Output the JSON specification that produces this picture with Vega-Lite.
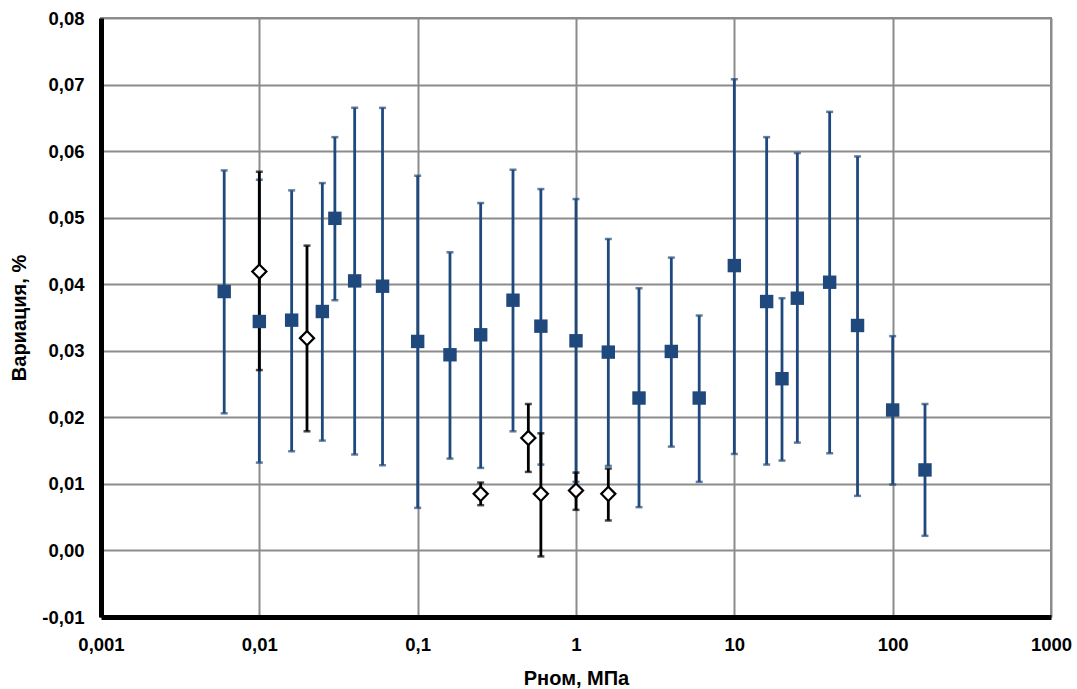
{
  "$schema": "https://vega.github.io/schema/vega-lite/v6.json",
  "width": 950,
  "height": 599,
  "autosize": {"type": "none"},
  "padding": {"left": 101, "top": 18, "right": 26, "bottom": 72},
  "background": "white",
  "config": {
    "font": "Liberation Sans",
    "view": {"stroke": "#8c8c8c", "strokeWidth": 2},
    "axis": {
      "gridColor": "#8c8c8c",
      "gridWidth": 2,
      "gridOpacity": 1,
      "domainColor": "black",
      "domainWidth": 5,
      "ticks": false,
      "labelFont": "Liberation Sans",
      "labelFontWeight": "bold",
      "labelFontSize": 18.5,
      "labelColor": "black",
      "titleFont": "Liberation Sans",
      "titleFontWeight": "bold",
      "titleFontSize": 20,
      "titleColor": "black"
    }
  },
  "data": {
    "values": [
      {"s": "blue", "x": 0.006, "y": 0.0389, "lo": 0.0206, "hi": 0.0571},
      {"s": "blue", "x": 0.01, "y": 0.0344, "lo": 0.0132, "hi": 0.0557},
      {"s": "blue", "x": 0.016, "y": 0.0346, "lo": 0.0149, "hi": 0.0541},
      {"s": "blue", "x": 0.025, "y": 0.0359, "lo": 0.0165, "hi": 0.0552},
      {"s": "blue", "x": 0.03, "y": 0.0499, "lo": 0.0376, "hi": 0.0621},
      {"s": "blue", "x": 0.04, "y": 0.0405, "lo": 0.0144, "hi": 0.0665},
      {"s": "blue", "x": 0.06, "y": 0.0397, "lo": 0.0128, "hi": 0.0665},
      {"s": "blue", "x": 0.1, "y": 0.0314, "lo": 0.0064, "hi": 0.0563},
      {"s": "blue", "x": 0.16, "y": 0.0294, "lo": 0.0138, "hi": 0.0448},
      {"s": "blue", "x": 0.25, "y": 0.0324, "lo": 0.0124, "hi": 0.0522},
      {"s": "blue", "x": 0.4, "y": 0.0376, "lo": 0.0179, "hi": 0.0572},
      {"s": "blue", "x": 0.6, "y": 0.0337, "lo": 0.0129, "hi": 0.0543},
      {"s": "blue", "x": 1, "y": 0.0315, "lo": 0.0103, "hi": 0.0528},
      {"s": "blue", "x": 1.6, "y": 0.0298, "lo": 0.0127, "hi": 0.0468},
      {"s": "blue", "x": 2.5, "y": 0.0229, "lo": 0.0065, "hi": 0.0394},
      {"s": "blue", "x": 4, "y": 0.0299, "lo": 0.0156, "hi": 0.044},
      {"s": "blue", "x": 6, "y": 0.0229, "lo": 0.0103, "hi": 0.0353},
      {"s": "blue", "x": 10, "y": 0.0428, "lo": 0.0145, "hi": 0.0708},
      {"s": "blue", "x": 16, "y": 0.0374, "lo": 0.0129, "hi": 0.0621},
      {"s": "blue", "x": 20, "y": 0.0258, "lo": 0.0135, "hi": 0.0379},
      {"s": "blue", "x": 25, "y": 0.0379, "lo": 0.0162, "hi": 0.0597},
      {"s": "blue", "x": 40, "y": 0.0403, "lo": 0.0146, "hi": 0.0659},
      {"s": "blue", "x": 60, "y": 0.0338, "lo": 0.0082, "hi": 0.0592},
      {"s": "blue", "x": 100, "y": 0.0211, "lo": 0.0099, "hi": 0.0322},
      {"s": "blue", "x": 160, "y": 0.0121, "lo": 0.0022, "hi": 0.022},
      {"s": "black", "x": 0.01, "y": 0.0419, "lo": 0.0271, "hi": 0.0569},
      {"s": "black", "x": 0.02, "y": 0.0319, "lo": 0.0179, "hi": 0.0458},
      {"s": "black", "x": 0.25, "y": 0.0085, "lo": 0.0068, "hi": 0.0102},
      {"s": "black", "x": 0.5, "y": 0.0169, "lo": 0.0118, "hi": 0.022},
      {"s": "black", "x": 0.6, "y": 0.0085, "lo": -0.0009, "hi": 0.0176},
      {"s": "black", "x": 1, "y": 0.009, "lo": 0.0061, "hi": 0.0117},
      {"s": "black", "x": 1.6, "y": 0.0085, "lo": 0.0045, "hi": 0.0123}
    ]
  },
  "encoding": {
    "x": {
      "field": "x",
      "type": "quantitative",
      "scale": {"type": "log", "domain": [0.001, 1000], "nice": false},
      "axis": {
        "title": "Рном, МПа",
        "values": [0.001, 0.01, 0.1, 1, 10, 100, 1000],
        "labelExpr": "replace(toString(datum.value), '.', ',')",
        "labelPadding": 18,
        "titlePadding": 15,
        "labelFlush": false,
        "labelOverlap": false
      }
    }
  },
  "layer": [
    {
      "transform": [{"filter": "datum.s === 'blue'"}],
      "mark": {
        "type": "errorbar",
        "color": "#1f497d",
        "rule": {"strokeWidth": 2.8, "color": "#1f497d"},
        "ticks": {"size": 7, "thickness": 2.5, "color": "#1f497d"}
      },
      "encoding": {
        "y": {
          "field": "lo",
          "type": "quantitative",
          "title": "Вариация, %",
          "scale": {"domain": [-0.01, 0.08], "nice": false, "zero": false},
          "axis": {
            "title": "Вариация, %",
            "values": [-0.01, 0, 0.01, 0.02, 0.03, 0.04, 0.05, 0.06, 0.07, 0.08],
            "labelExpr": "replace(replace(format(datum.value, '.2f'), '.', ','), '\u2212', '-')",
            "labelPadding": 17,
            "titlePadding": 12,
            "labelFlush": false,
            "labelOverlap": false
          }
        },
        "y2": {"field": "hi"}
      }
    },
    {
      "transform": [{"filter": "datum.s === 'black'"}],
      "mark": {
        "type": "errorbar",
        "color": "black",
        "rule": {"strokeWidth": 2.8, "color": "black"},
        "ticks": {"size": 7, "thickness": 2.5, "color": "black"}
      },
      "encoding": {
        "y": {"field": "lo", "type": "quantitative", "title": "Вариация, %"},
        "y2": {"field": "hi"}
      }
    },
    {
      "transform": [{"filter": "datum.s === 'blue'"}],
      "mark": {"type": "point", "shape": "square", "filled": true, "color": "#1f497d", "size": 180, "opacity": 1},
      "encoding": {"y": {"field": "y", "type": "quantitative", "title": "Вариация, %"}}
    },
    {
      "transform": [{"filter": "datum.s === 'black'"}],
      "mark": {"type": "point", "shape": "diamond", "filled": false, "fill": "white", "fillOpacity": 1, "stroke": "black", "strokeWidth": 2.2, "size": 200, "opacity": 1},
      "encoding": {"y": {"field": "y", "type": "quantitative", "title": "Вариация, %"}}
    }
  ]
}
